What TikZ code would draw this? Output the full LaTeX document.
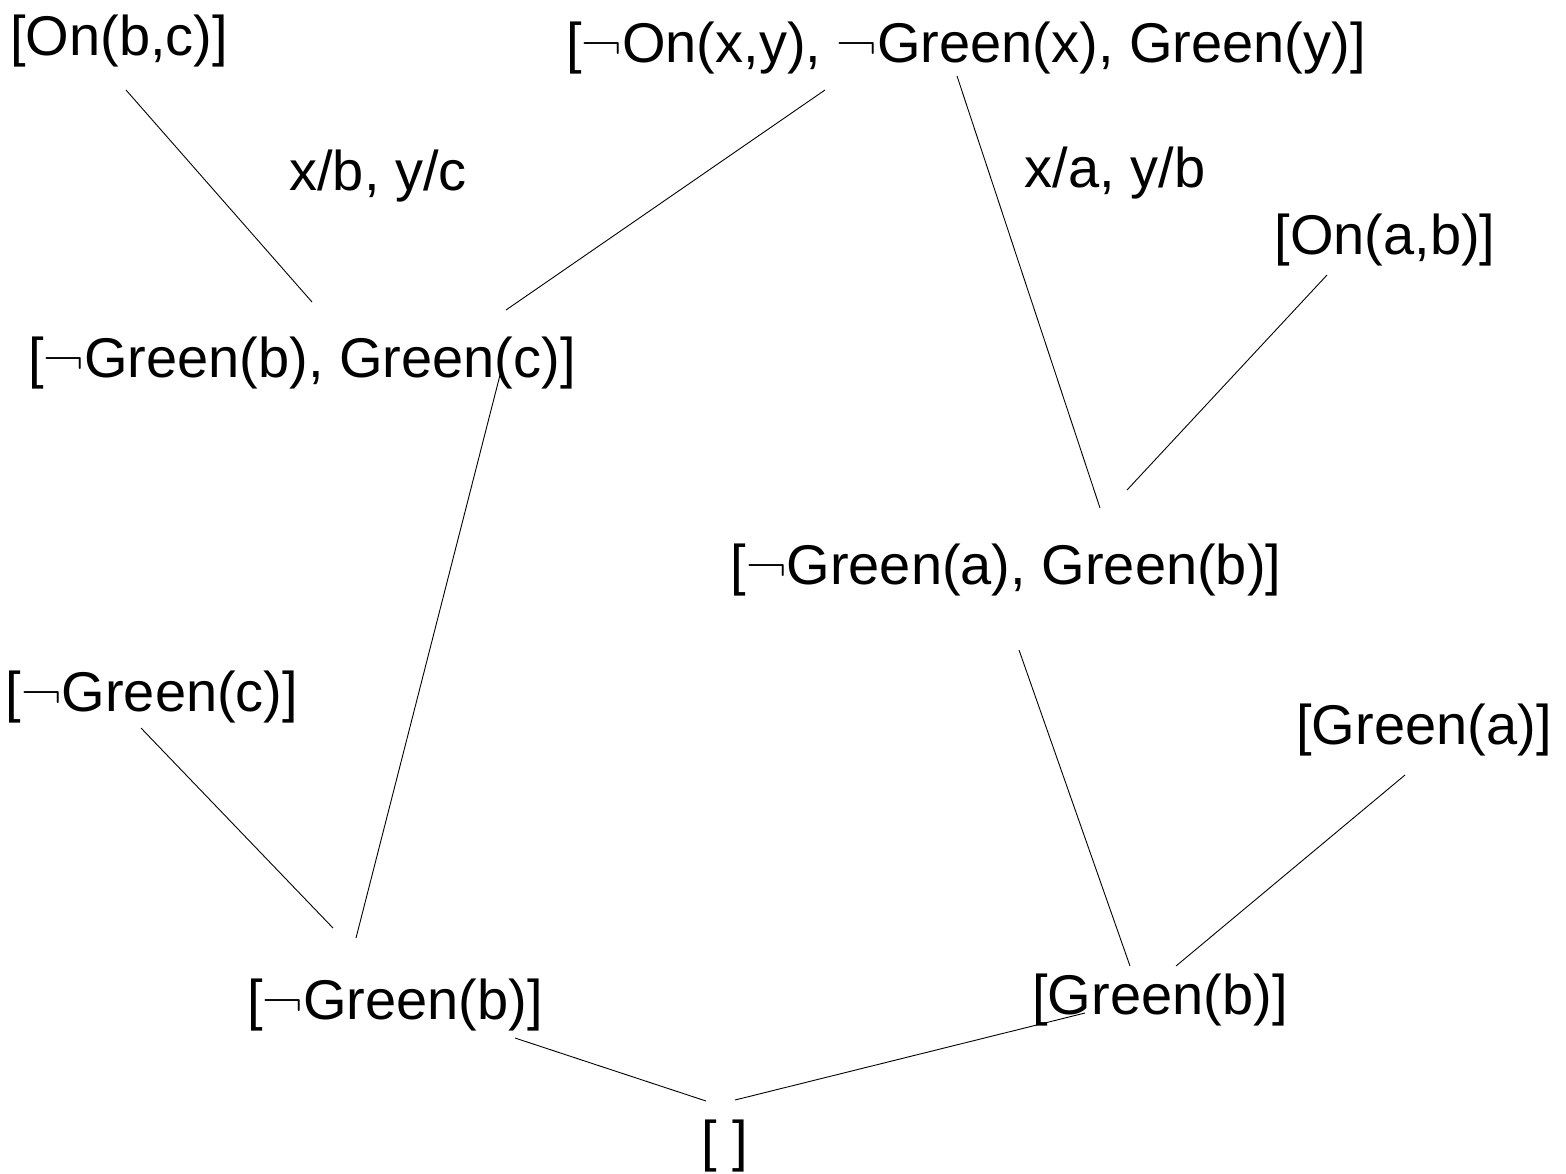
\documentclass[tikz,border=0pt]{standalone}
\usepackage{fontspec}
\setmainfont{Liberation Sans}
\newfontfamily\lmr{Latin Modern Roman}
\newcommand{\nt}{{\lmr ¬}}
\begin{document}
\begin{tikzpicture}[x=1pt,y=-1pt,
  clause/.style={inner sep=0pt,font=\fontsize{56}{64}\selectfont},
  edge/.style={line width=0.9pt}]
\useasboundingbox (0,0) rectangle (1566,1173);
\node[clause] (onbc) at (119,41) {[On(b,c)]};
\node[clause] (top) at (966,48) {[\nt On(x,y), \nt Green(x), Green(y)]};
\node[clause] (onab) at (1385,240) {[On(a,b)]};
\node[clause] (gbgc) at (302,363) {[\nt Green(b), Green(c)]};
\node[clause] (gagb) at (1006,570) {[\nt Green(a), Green(b)]};
\node[clause] (ngc) at (152,697) {[\nt Green(c)]};
\node[clause] (ga) at (1424,730) {[Green(a)]};
\node[clause] (ngb) at (395,1005) {[\nt Green(b)]};
\node[clause] (gb) at (1160,1000) {[Green(b)]};
\node[clause] (empty) at (725,1146) {[ ]};
\node[clause] (sub1) at (378,176) {x/b, y/c};
\node[clause] (sub2) at (1115,173) {x/a, y/b};
\draw[edge] ([shift={(7,49)}]onbc.center) -- ([shift={(10,-61)}]gbgc.center);
\draw[edge] ([shift={(-141,42)}]top.center) -- ([shift={(204,-53)}]gbgc.center);
\draw[edge] ([shift={(-9,28)}]top.center) -- ([shift={(94,-62)}]gagb.center);
\draw[edge] ([shift={(-58,35)}]onab.center) -- ([shift={(121,-80)}]gagb.center);
\draw[edge] ([shift={(198,12)}]gbgc.center) -- ([shift={(-39,-67)}]ngb.center);
\draw[edge] ([shift={(-11,31)}]ngc.center) -- ([shift={(-62,-77)}]ngb.center);
\draw[edge] ([shift={(13,80)}]gagb.center) -- ([shift={(-30,-34)}]gb.center);
\draw[edge] ([shift={(-19,45)}]ga.center) -- ([shift={(16,-34)}]gb.center);
\draw[edge] ([shift={(120,33)}]ngb.center) -- ([shift={(-19,-45)}]empty.center);
\draw[edge] ([shift={(-75,13)}]gb.center) -- ([shift={(10,-46)}]empty.center);
\end{tikzpicture}
\end{document}
